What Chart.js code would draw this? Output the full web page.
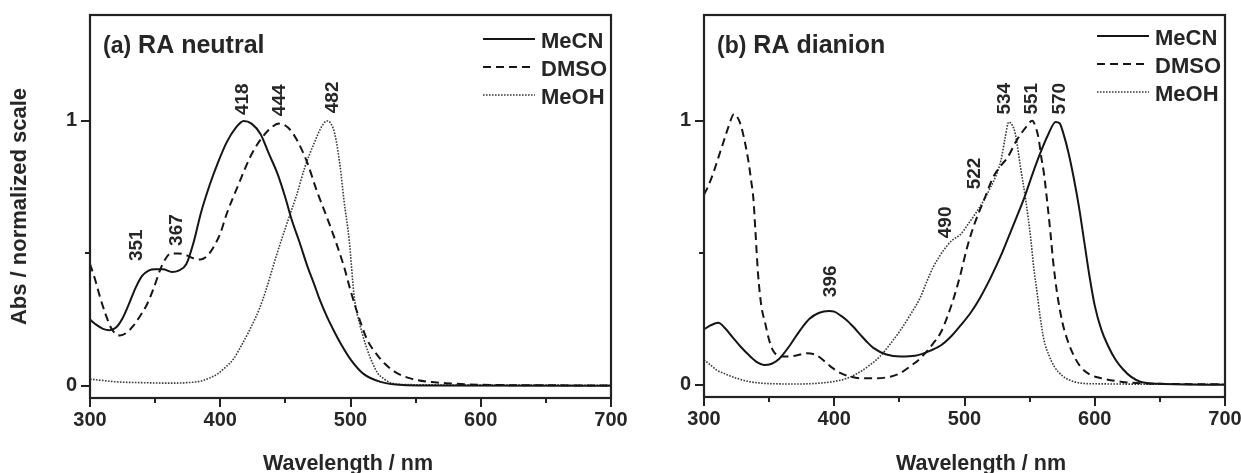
<!DOCTYPE html>
<html><head><meta charset="utf-8">
<script src="https://cdn.jsdelivr.net/npm/chart.js@4.4.0/dist/chart.umd.min.js"></script>
<style>
html,body{margin:0;padding:0;background:#fff;width:1241px;height:473px;overflow:hidden}
#ca{position:absolute;left:0;top:0}
#cb{position:absolute;left:640px;top:0}
</style></head><body>
<canvas id="ca" width="640" height="473"></canvas>
<canvas id="cb" width="620" height="473"></canvas>
<script>
const xTicks = [300, 400, 500, 600, 700];
const xMinorTicks = [350, 450, 550, 650];
const yTicks = [0, 1];
const yMinorTicks = [0.5];
const seriesNames = ['MeCN', 'DMSO', 'MeOH'];
const xTitle = 'Wavelength / nm';
const yTitle = 'Abs / normalized scale';
const panelTags = ['(a)', '(b)'];
const panelNames = ['RA neutral', 'RA dianion'];

// Panel (a): RA neutral  [wavelength nm, normalized abs]
const neutralMeCN = [[300,0.25],[305,0.23],[310,0.215],[315,0.21],[320,0.22],[325,0.255],[330,0.31],[335,0.37],[340,0.415],[345,0.435],[350,0.44],[356,0.44],[363,0.43],[368,0.435],[374,0.46],[380,0.55],[385,0.65],[392,0.76],[398,0.84],[405,0.92],[412,0.975],[418,1.0],[424,0.99],[431,0.95],[437,0.88],[444,0.8],[450,0.71],[455,0.625],[461,0.54],[467,0.45],[472,0.385],[476,0.33],[482,0.26],[487,0.21],[493,0.155],[500,0.1],[510,0.045],[523,0.015],[540,0.003],[560,0.001],[700,0]];
const neutralDMSO = [[300,0.46],[304,0.4],[308,0.33],[312,0.27],[316,0.22],[320,0.195],[323,0.19],[328,0.2],[333,0.225],[338,0.26],[344,0.31],[349,0.37],[354,0.44],[358,0.48],[362,0.5],[368,0.5],[374,0.493],[380,0.48],[385,0.477],[390,0.49],[395,0.525],[400,0.575],[405,0.65],[414,0.76],[423,0.864],[431,0.93],[438,0.97],[445,0.99],[452,0.975],[459,0.927],[467,0.84],[474,0.738],[485,0.595],[495,0.45],[500,0.36],[507,0.25],[513,0.172],[520,0.12],[526,0.085],[535,0.05],[546,0.028],[560,0.015],[577,0.009],[600,0.004],[650,0.002],[700,0.001]];
const neutralMeOH = [[300,0.025],[310,0.02],[320,0.015],[340,0.012],[360,0.01],[375,0.012],[385,0.018],[392,0.03],[398,0.045],[404,0.07],[410,0.1],[416,0.15],[423,0.215],[430,0.29],[435,0.36],[443,0.49],[451,0.61],[459,0.726],[465,0.826],[472,0.915],[478,0.98],[482,1.0],[485,0.99],[488,0.95],[492,0.83],[495,0.7],[499,0.55],[503,0.33],[507,0.235],[513,0.135],[517,0.085],[521,0.047],[526,0.025],[531,0.011],[540,0.005],[600,0.003],[700,0.002]];

// Panel (b): RA dianion
const dianionMeCN = [[300,0.21],[305,0.225],[311,0.235],[316,0.215],[322,0.18],[328,0.145],[335,0.11],[341,0.085],[346,0.075],[352,0.08],[358,0.1],[366,0.15],[374,0.208],[381,0.25],[388,0.272],[396,0.28],[400,0.277],[405,0.262],[410,0.243],[415,0.218],[420,0.19],[425,0.163],[430,0.14],[440,0.115],[451,0.107],[462,0.11],[474,0.13],[482,0.15],[490,0.185],[497,0.225],[505,0.275],[512,0.33],[520,0.405],[528,0.49],[533,0.55],[540,0.635],[546,0.71],[552,0.795],[558,0.875],[564,0.945],[570,0.995],[573,0.99],[576,0.95],[580,0.875],[584,0.78],[588,0.67],[592,0.54],[596,0.41],[600,0.3],[605,0.21],[610,0.15],[616,0.095],[622,0.057],[628,0.03],[635,0.012],[650,0.004],[700,0]];
const dianionDMSO = [[300,0.72],[303,0.75],[307,0.8],[311,0.86],[315,0.92],[319,0.98],[323,1.025],[327,1.0],[330,0.95],[334,0.85],[336,0.78],[338,0.7],[339.5,0.58],[341.5,0.42],[344,0.3],[347,0.233],[350,0.17],[353,0.13],[357,0.11],[361,0.107],[370,0.11],[379,0.12],[385,0.115],[390,0.1],[397,0.07],[405,0.044],[412,0.032],[420,0.025],[432,0.025],[443,0.031],[451,0.045],[458,0.069],[466,0.1],[476,0.157],[482,0.2],[487,0.26],[492,0.333],[497,0.42],[502,0.52],[507,0.6],[515,0.7],[522,0.786],[528,0.83],[533,0.86],[540,0.925],[548,0.98],[552,1.0],[555,0.97],[557,0.93],[559,0.86],[561,0.8],[564,0.67],[566,0.575],[568,0.47],[571,0.35],[575,0.24],[579,0.17],[584,0.11],[589,0.069],[596,0.04],[605,0.025],[620,0.012],[635,0.006],[700,0.002]];
const dianionMeOH = [[300,0.095],[305,0.075],[310,0.055],[315,0.044],[325,0.025],[335,0.012],[345,0.006],[355,0.004],[370,0.003],[380,0.004],[390,0.007],[400,0.013],[410,0.025],[418,0.044],[426,0.07],[435,0.107],[443,0.155],[451,0.208],[459,0.27],[466,0.33],[471,0.39],[476,0.446],[480,0.48],[484,0.51],[490,0.545],[497,0.57],[503,0.61],[510,0.66],[515,0.7],[520,0.748],[524,0.79],[528,0.85],[531,0.93],[534,0.995],[537,0.98],[539,0.95],[543,0.824],[547,0.7],[551,0.547],[553,0.45],[556,0.34],[558,0.26],[561,0.17],[565,0.11],[569,0.069],[575,0.035],[584,0.012],[600,0.004],[700,0.002]];

// Peak labels: [text, wavelength at label centre, value at label centre]
const neutralPeakLabels = [['351',335.4,0.531],['367',366.2,0.588],['418',416.9,1.082],['444',444.6,1.078],['482',485.4,1.089]];
const dianionPeakLabels = [['396',396.2,0.392],['490',484.6,0.615],['522',506.9,0.8],['534',530,1.083],['551',550.8,1.083],['570',572.3,1.083]];

const INK = '#262626';
const FONT = "'Liberation Sans', Arial, sans-serif";
const lineStyles = [
  {borderDash: [], borderWidth: 2, borderColor: '#151515'},
  {borderDash: [8, 5], borderWidth: 2, borderColor: '#151515'},
  {borderDash: [1.6, 1.4], borderWidth: 1.6, borderColor: '#3a3a3a'}
];

const decoPlugin = {
  id: 'deco',
  afterDraw(chart, args, o) {
    const ctx = chart.ctx, a = chart.chartArea;
    const xs = chart.scales.x, ys = chart.scales.y;
    ctx.save();
    ctx.strokeStyle = '#222';
    ctx.lineWidth = 2;
    ctx.lineCap = 'butt';
    ctx.beginPath();
    xTicks.forEach(v => { const p = Math.round(xs.getPixelForValue(v)); ctx.moveTo(p, a.bottom); ctx.lineTo(p, a.bottom + 9); });
    xMinorTicks.forEach(v => { const p = Math.round(xs.getPixelForValue(v)); ctx.moveTo(p, a.bottom); ctx.lineTo(p, a.bottom + 5); });
    yTicks.forEach(v => { const p = Math.round(ys.getPixelForValue(v)); ctx.moveTo(a.left, p); ctx.lineTo(a.left - 9, p); });
    yMinorTicks.forEach(v => { const p = Math.round(ys.getPixelForValue(v)); ctx.moveTo(a.left, p); ctx.lineTo(a.left - 5, p); });
    ctx.stroke();
    ctx.lineWidth = 2.2;
    ctx.strokeRect(a.left, a.top, a.right - a.left, a.bottom - a.top);

    // panel title
    ctx.fillStyle = INK;
    ctx.textBaseline = 'alphabetic';
    ctx.textAlign = 'left';
    ctx.font = 'bold 23px ' + FONT;
    ctx.fillText(o.tag, a.left + 13, a.top + 38);
    const tw = ctx.measureText(o.tag).width;
    ctx.font = 'bold 25px ' + FONT;
    ctx.fillText(o.name, a.left + 13 + tw + 7, a.top + 38);

    // legend
    chart.data.datasets.forEach((d, i) => {
      const y = a.top + o.legendTop + i * 28;
      ctx.save();
      ctx.strokeStyle = d.borderColor;
      ctx.lineWidth = d.borderWidth;
      ctx.setLineDash(d.borderDash);
      ctx.beginPath();
      ctx.moveTo(a.right - 128, y);
      ctx.lineTo(a.right - 76, y);
      ctx.stroke();
      ctx.restore();
      ctx.font = 'bold 22px ' + FONT;
      ctx.fillStyle = INK;
      ctx.textAlign = 'left';
      ctx.textBaseline = 'alphabetic';
      ctx.fillText(d.label, a.right - 70, y + 8.5);
    });

    // peak labels
    ctx.font = 'bold 19px ' + FONT;
    ctx.textAlign = 'center';
    ctx.textBaseline = 'middle';
    o.peaks.forEach(([t, wl, v]) => {
      ctx.save();
      ctx.translate(xs.getPixelForValue(wl), ys.getPixelForValue(v));
      ctx.rotate(-Math.PI / 2);
      ctx.fillText(t, 0, 1);
      ctx.restore();
    });

    // x axis title
    ctx.font = 'bold 21.5px ' + FONT;
    ctx.textAlign = 'center';
    ctx.textBaseline = 'alphabetic';
    ctx.fillText(xTitle, (a.left + a.right) / 2 + o.xTitleShift, 470);
    ctx.restore();
  }
};

function makePanel(id, series, peaks, idx, yAxisWidth, xAxisHeight, rightPad, legendTop, xTitleShift, showYTitle) {
  return new Chart(document.getElementById(id), {
    type: 'line',
    data: {
      datasets: series.map((s, i) => Object.assign({
        label: seriesNames[i],
        data: s.map(([x, y]) => ({x, y})),
        pointRadius: 0,
        fill: false,
        cubicInterpolationMode: 'monotone'
      }, lineStyles[i]))
    },
    options: {
      responsive: false,
      animation: false,
      devicePixelRatio: 1,
      layout: {padding: {left: 0, top: 15, right: rightPad, bottom: 0}},
      plugins: {
        legend: {display: false},
        tooltip: {enabled: false},
        deco: {tag: panelTags[idx], name: panelNames[idx], peaks: peaks, legendTop: legendTop, xTitleShift: xTitleShift}
      },
      scales: {
        x: {
          type: 'linear', min: 300, max: 700,
          afterBuildTicks: s => { s.ticks = xTicks.map(v => ({value: v})); },
          afterFit: s => { s.height = xAxisHeight; s.paddingLeft = 0; s.paddingRight = 0; s.paddingTop = 0; s.paddingBottom = 0; },
          grid: {display: false, drawTicks: false},
          border: {display: false},
          ticks: {padding: 10, color: INK, font: {family: FONT, size: 20, weight: 'bold'}, maxRotation: 0, callback: v => String(v)}
        },
        y: {
          type: 'linear', min: -0.046, max: 1.4,
          afterBuildTicks: s => { s.ticks = yTicks.map(v => ({value: v})); },
          afterFit: s => { s.width = yAxisWidth; s.paddingTop = 0; s.paddingBottom = 0; s.paddingLeft = 0; s.paddingRight = 0; },
          grid: {display: false, drawTicks: false},
          border: {display: false},
          ticks: {padding: 13, color: INK, font: {family: FONT, size: 20, weight: 'bold'}, callback: v => String(v)},
          title: {display: showYTitle, text: yTitle, color: INK, font: {family: FONT, size: 22, weight: 'bold'}, padding: {top: 7, bottom: 0}}
        }
      }
    },
    plugins: [decoPlugin]
  });
}

makePanel('ca', [neutralMeCN, neutralDMSO, neutralMeOH], neutralPeakLabels, 0, 90, 75, 29, 24, -2.5, true);
makePanel('cb', [dianionMeCN, dianionDMSO, dianionMeOH], dianionPeakLabels, 1, 64, 76, 35, 21, 16.5, false);
</script>
</body></html>
